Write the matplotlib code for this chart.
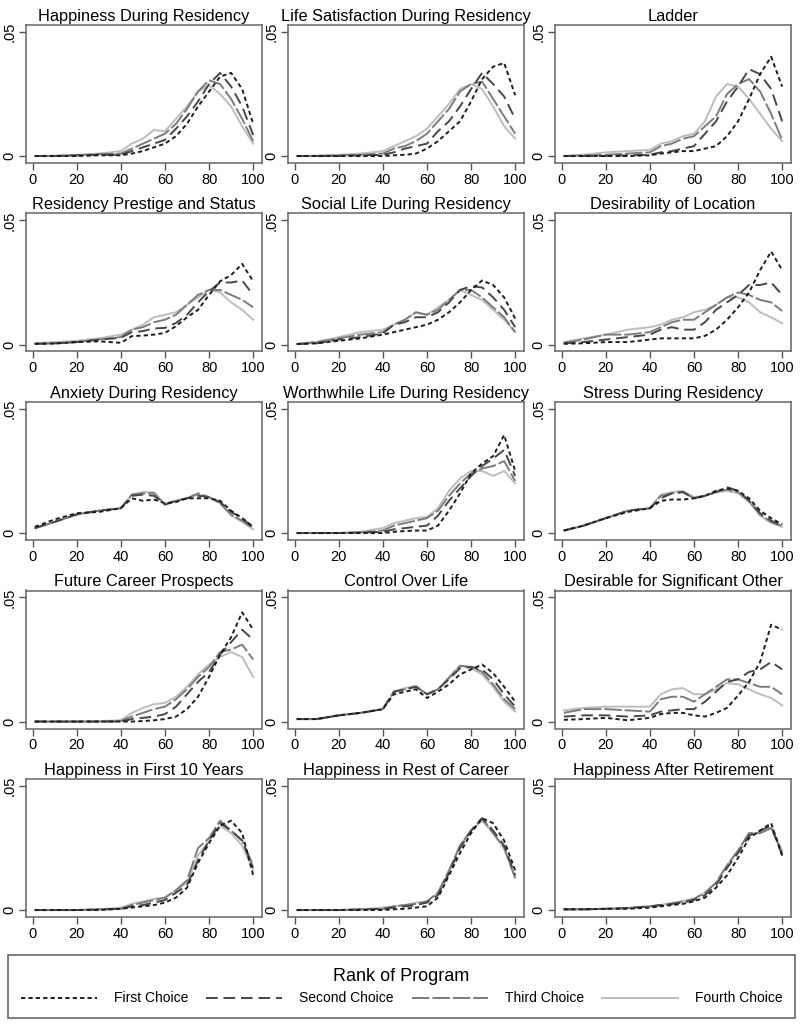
import matplotlib
matplotlib.use("Agg")
import matplotlib.pyplot as plt

plt.rcParams["font.family"] = ["Liberation Sans", "DejaVu Sans"]

# score grid (x) and kernel densities, in units of 0.001
x = [1, 10, 20, 30, 40, 45, 50, 55, 60, 65, 70, 75, 80, 85, 90, 95, 100]

titles = [
    "Happiness During Residency", "Life Satisfaction During Residency", "Ladder",
    "Residency Prestige and Status", "Social Life During Residency", "Desirability of Location",
    "Anxiety During Residency", "Worthwhile Life During Residency", "Stress During Residency",
    "Future Career Prospects", "Control Over Life", "Desirable for Significant Other",
    "Happiness in First 10 Years", "Happiness in Rest of Career", "Happiness After Retirement",
]

first_choice = [
    [0, 0, 0, 0.3, 0.3, 1, 2, 3.5, 5, 8, 13, 20, 26, 32, 33.5, 27, 13],
    [0, 0, 0, 0, 0, 0.3, 0.5, 1, 3, 6, 10, 14, 22, 31, 36, 37.5, 24.5],
    [0, 0, 0, 0, 0.3, 1, 1.5, 2, 2, 3, 4, 8, 14, 23, 33, 40, 28],
    [0.3, 0.4, 1, 1.3, 0.7, 3.4, 3.6, 4, 4.7, 7.4, 11, 14, 20, 25.5, 28, 32.5, 25.5],
    [0.2, 0.5, 1.5, 2.5, 4, 5, 6, 7, 8, 10, 13, 17, 22, 25.8, 24, 19, 10.5],
    [0.3, 0.5, 1, 1, 2, 2.5, 2.5, 2.5, 2.5, 3.5, 6, 10, 15, 21, 30, 37.5, 30],
    [2.5, 5.5, 8, 8.5, 10, 14, 13, 13.5, 12, 12.5, 14, 14, 14, 13, 9, 6, 2.5],
    [0, 0, 0, 0, 0, 0.5, 0.8, 1, 1, 3, 9, 16, 24, 28, 31, 39.5, 25],
    [1, 3, 6, 8.5, 10, 13, 13.5, 13.5, 14, 15, 17, 18, 17, 14, 9, 6, 3.5],
    [0, 0, 0, 0, 0, 0, 0.2, 0.5, 1, 2, 5, 10, 18, 27, 34, 44, 37],
    [1, 1, 2.5, 3.5, 5, 11, 12, 13, 9.5, 12, 15, 19, 21, 23, 19.5, 14, 8],
    [0.7, 1, 1.5, 0.5, 1.5, 3, 3.5, 3.5, 2.5, 2, 3.5, 5.5, 10.5, 16, 24, 39, 37],
    [0, 0, 0, 0, 0.5, 1, 1.5, 2, 3, 5, 9, 19, 27, 34, 36, 31, 14],
    [0, 0, 0, 0, 0, 0.3, 0.5, 1, 1.5, 5, 14, 23, 31, 37, 35, 28, 16],
    [0.3, 0.3, 0.5, 0.5, 1, 1.5, 2, 2.5, 3.5, 5, 9, 14, 21, 29, 32, 35, 22],
]

second_choice = [
    [0, 0, 0.3, 0.5, 0.5, 2, 3.5, 5, 6.5, 11, 16, 22, 29, 33.5, 28, 20, 8.5],
    [0, 0, 0, 0.3, 0.5, 1.5, 3, 4, 5, 10, 14, 20, 27, 33.5, 29, 24, 15],
    [0, 0, 0, 0.3, 0.5, 1.5, 2, 3, 4, 9, 14, 22, 28, 35, 33, 27, 14],
    [0.3, 0.5, 1, 2, 2.7, 5, 5.4, 6.5, 6.7, 8.7, 12, 17, 21.5, 25, 25, 25.8, 20],
    [0.2, 0.5, 2, 3, 4.5, 8, 9, 11, 11, 13, 17, 22, 23.5, 23, 19, 14, 7],
    [0.5, 1, 2, 3, 4, 6, 7, 6, 6, 9, 14, 17, 20, 24, 24, 25, 20],
    [2, 4.5, 7.5, 9, 10, 15, 15.5, 15, 11.5, 13, 14, 15, 14.5, 12.5, 8.5, 6, 2.2],
    [0, 0, 0, 0.2, 0.5, 1.5, 2, 2.5, 3, 7, 13, 18, 23, 27, 30, 33.5, 23],
    [1, 3, 6, 9, 10, 14, 16, 16.5, 14, 15, 16.5, 18.5, 17, 13, 8, 5, 3],
    [0, 0, 0, 0, 0, 1, 1.5, 2, 3, 6, 11, 16, 20, 27, 32, 37, 33],
    [1, 1, 2.5, 3.5, 5, 12, 13, 14, 11, 13, 17, 21.5, 22, 21, 17, 11, 6],
    [2, 2.5, 2.5, 2, 2.5, 4, 4.5, 5, 5, 8, 12, 16, 17, 20, 21, 24, 21],
    [0, 0, 0, 0.2, 0.5, 1.5, 2, 3, 4, 7, 10, 20, 28, 35, 32, 28, 17],
    [0, 0, 0, 0.2, 0.5, 1, 1.5, 2, 3, 6, 15, 25, 32, 37, 32, 26, 14],
    [0.3, 0.3, 0.5, 0.8, 1.5, 2, 2.5, 3, 4, 6, 10, 17, 23, 30, 32, 34, 22],
]

third_choice = [
    [0, 0, 0.3, 0.8, 1, 3, 5, 7, 9, 13, 19, 26, 30.5, 29, 23, 15, 6],
    [0, 0, 0.3, 0.5, 1, 3, 4, 6, 9, 14, 19, 26, 29, 30, 23, 16, 9],
    [0, 0.3, 0.5, 1, 1.5, 4, 5, 7, 8, 12, 16, 25, 29, 31, 26, 17, 6.5],
    [0.3, 0.5, 1, 2, 3, 6, 7, 9, 10, 12, 16, 20, 22, 22, 20, 18, 15],
    [0.2, 1, 2.5, 4, 5, 8, 10, 13, 12, 14, 18, 22, 22, 19, 15, 11, 5],
    [0.7, 2, 4, 4, 5, 7, 9, 10, 10, 13, 16, 19, 21, 20, 18, 17, 13.5],
    [2, 4.5, 7.5, 9, 10, 15.5, 16, 16, 11.5, 13, 14, 16, 14.5, 12, 7.5, 5, 2],
    [0, 0, 0, 0.3, 1, 3, 4, 5, 6, 9, 15, 20, 24, 26, 27, 29, 21],
    [1, 3, 6, 9, 10, 15, 16, 16.5, 14, 15, 16.5, 17.5, 16.5, 13, 7.5, 4.5, 2.8],
    [0, 0, 0, 0, 0.3, 2, 3.5, 5, 6, 9, 13, 18, 22, 28, 29, 31, 25],
    [1, 1, 2.5, 3.5, 5, 12, 13, 14, 11, 13, 17.5, 22.5, 22, 20, 15, 9, 5],
    [3.5, 5, 5, 4.5, 4, 9, 10, 10, 8, 11, 14, 17, 17, 15.5, 14, 14, 11],
    [0, 0, 0, 0.3, 0.5, 2, 3, 4, 5, 8, 12, 25, 29, 36, 32, 28, 18],
    [0, 0, 0, 0.3, 0.5, 1.5, 2, 2.5, 3.5, 7, 16, 26, 32, 37, 31, 25, 13],
    [0.3, 0.3, 0.5, 0.8, 1.5, 2, 2.5, 3.5, 4.5, 7, 11, 18, 24, 31, 31, 33, 23],
]

fourth_choice = [
    [0, 0.2, 0.5, 1, 2, 5, 7, 10.5, 10, 15, 20, 26, 28.5, 25, 20, 12, 5],
    [0, 0.2, 0.5, 1, 2, 4, 6, 8, 11, 16, 21, 27, 29, 27, 20, 12, 7],
    [0, 0.5, 1.5, 2, 2.5, 5, 6, 8, 9, 14, 24, 29, 28, 23, 17, 11, 6],
    [0.5, 1, 1.5, 2.5, 4, 6, 8, 11, 12, 13, 16, 19, 22, 21, 17, 14, 10],
    [0.3, 1, 3, 5, 6, 8, 10, 13, 12, 15, 18, 22, 20, 18, 14, 10, 5],
    [1, 2.5, 4, 6, 7, 8, 10, 11, 13, 14, 16, 19, 19, 17, 13, 11, 8.5],
    [1.8, 4.5, 7.5, 9, 10, 15.5, 16.5, 16.5, 11.5, 13, 14, 15.5, 14.5, 12, 7, 4.5, 1.5],
    [0, 0, 0, 0.5, 2, 4, 5, 6, 6.5, 10, 17, 22, 25, 25, 23, 25, 20],
    [1, 3, 6, 9, 10, 15.5, 16.5, 17, 14.5, 15, 16.5, 17, 16, 12.5, 7, 4, 2.5],
    [0, 0, 0, 0.2, 0.5, 3.5, 5.5, 7, 7.5, 10, 14, 19, 23, 26, 28, 26, 18],
    [1, 1, 2.5, 3.5, 5, 12, 13.5, 14.5, 11, 13, 18, 22.5, 21.5, 19, 14, 8, 4],
    [4.5, 5.5, 6, 6, 6, 11, 13, 13.5, 11, 11, 13, 15.5, 15, 13, 11, 9.5, 6.5],
    [0, 0, 0, 0.3, 1, 2.5, 3.5, 4.5, 5, 8, 11, 22, 28, 34, 31, 26, 16],
    [0, 0, 0, 0.3, 1, 1.5, 2, 3, 3.5, 7, 15, 26, 32, 36, 31, 25, 13],
    [0.3, 0.3, 0.5, 0.8, 1.5, 2, 3, 3.5, 4.5, 7, 11, 18, 24, 31, 31, 33, 24],
]

choice_labels = ["First Choice", "Second Choice", "Third Choice", "Fourth Choice"]
styles = [
    dict(color="#1e1e1e", dashes=(2.2, 1.6)),
    dict(color="#474747", dashes=(6, 3)),
    dict(color="#7c7c7c", dashes=(9, 1.5)),
    dict(color="#bdbdbd", linestyle="-"),
]

W, H = 800, 1027
fig = plt.figure(figsize=(W / 100, H / 100), dpi=100)

col_left = [26, 288, 555]
col_width = 236
row_top = 25
row_step = 188.5
box_h = 138

handles = []
for i, title in enumerate(titles):
    r, c = divmod(i, 3)
    top = row_top + r * row_step
    ax = fig.add_axes([col_left[c] / W, 1 - (top + box_h) / H, col_width / W, box_h / H])
    series = [first_choice[i], second_choice[i], third_choice[i], fourth_choice[i]]
    lines = []
    for s, st in zip(series[::-1], styles[::-1]):
        ln, = ax.plot(x, [v / 1000 for v in s], lw=1.4, **st)
        lines.append(ln)
    if i == 0:
        handles = lines[::-1]
    ax.set_xlim(-3, 104)
    ax.set_ylim(-0.0028, 0.0528)
    ax.set_xticks([0, 20, 40, 60, 80, 100])
    ax.set_yticks([0, 0.05])
    ax.set_yticklabels(["0", ".05"], rotation=90, va="center")
    ax.tick_params(direction="out", length=5, width=1, color="#555555",
                   labelsize=10.5, pad=2)
    for sp in ax.spines.values():
        sp.set_color("#666666")
        sp.set_linewidth(1.1)
    ax.set_title(title, fontsize=11.8, pad=3)

leg = fig.legend(handles, choice_labels, loc="lower left",
                 bbox_to_anchor=(8 / W, 9 / H, 787 / W, 71 / H), mode="expand",
                 ncol=4, title="Rank of Program", fontsize=10,
                 title_fontsize=13, frameon=True, fancybox=False,
                 handlelength=5.5, handletextpad=1.2, borderpad=0.9,
                 borderaxespad=0)
leg.get_frame().set_edgecolor("#333333")
leg.get_frame().set_linewidth(1.1)

fig.savefig("out.png", dpi=100)
